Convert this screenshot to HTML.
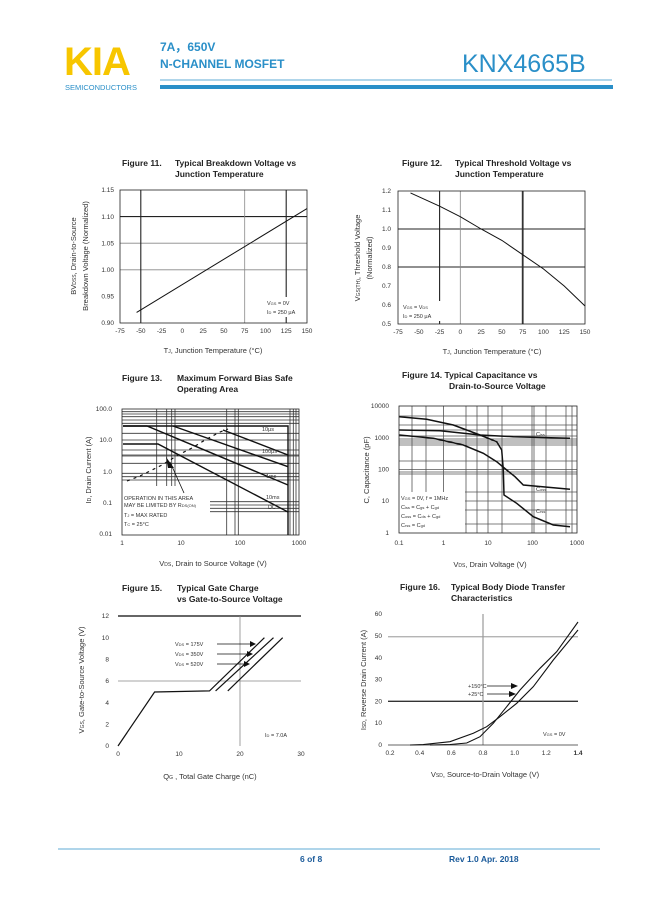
<!DOCTYPE html>
<html><head><meta charset="utf-8"><style>
html,body{margin:0;padding:0;background:#fff;}
svg{display:block;font-family:"Liberation Sans",Arial,sans-serif;}
.t{font-size:8.5px;font-weight:bold;fill:#222}
.k{font-size:6.5px;fill:#333}
.a{font-size:7.5px;fill:#333}
.s{font-size:5.5px;fill:#333}
.g{stroke:#888;stroke-width:0.8;fill:none}
.d{stroke:#222;stroke-width:1.1;fill:none}
.c{stroke:#111;stroke-width:1;fill:none}
.box{stroke:#222;stroke-width:0.8;fill:none}
</style></head><body>
<svg width="649" height="917" viewBox="0 0 649 917" xmlns="http://www.w3.org/2000/svg">
<!-- header -->
<text x="64" y="75" font-size="40" font-weight="bold" fill="#f7c600" letter-spacing="-1">KIA</text>
<text x="65" y="90" font-size="7.5" fill="#2a8fc8">SEMICONDUCTORS</text>
<text x="160" y="51" font-size="12" font-weight="bold" fill="#2a8fc8">7A，650V</text>
<text x="160" y="68" font-size="12" font-weight="bold" fill="#2a8fc8">N-CHANNEL MOSFET</text>
<text x="462" y="72" font-size="25" fill="#2a8fc8">KNX4665B</text>
<line x1="160" y1="80" x2="612" y2="80" stroke="#2a8fc8" stroke-width="0.8"/>
<rect x="160" y="85" width="453" height="4" fill="#2a8fc8"/>

<!-- FIG 11 -->
<text class="t" x="122" y="166">Figure 11.</text><text class="t" x="175" y="166">Typical Breakdown Voltage vs</text>
<text class="t" x="175" y="177">Junction Temperature</text>
<line class="g" x1="120" y1="269.8" x2="307" y2="269.8"/><line class="g" x1="120" y1="243.2" x2="307" y2="243.2"/>
<line class="d" x1="120" y1="216.6" x2="307" y2="216.6"/>
<line class="d" x1="140.8" y1="190" x2="140.8" y2="323"/><line class="g" x1="244.7" y1="190" x2="244.7" y2="323"/><line class="d" x1="286.2" y1="190" x2="286.2" y2="323"/>
<rect class="box" x="120" y="190" width="187" height="133"/>
<line class="c" x1="136.6" y1="312.4" x2="307" y2="208.6"/>
<rect x="265" y="297" width="40" height="20" fill="#fff"/>
<text class="s" x="267" y="305">V<tspan font-size="4">GS</tspan> = 0V</text><text class="s" x="267" y="314">I<tspan font-size="4">D</tspan> = 250 μA</text>
<g class="k" text-anchor="end"><text x="114" y="192">1.15</text><text x="114" y="219">1.10</text><text x="114" y="245.5">1.05</text><text x="114" y="272">1.00</text><text x="114" y="298.5">0.95</text><text x="114" y="325">0.90</text></g>
<g class="k" text-anchor="middle"><text x="120" y="333">-75</text><text x="140.8" y="333">-50</text><text x="161.6" y="333">-25</text><text x="182.3" y="333">0</text><text x="203.1" y="333">25</text><text x="223.9" y="333">50</text><text x="244.7" y="333">75</text><text x="265.4" y="333">100</text><text x="286.2" y="333">125</text><text x="307" y="333">150</text></g>
<text class="a" x="213" y="353" text-anchor="middle">T<tspan font-size="5">J</tspan>, Junction Temperature (°C)</text>
<text class="a" transform="translate(76,256) rotate(-90)" text-anchor="middle">BV<tspan font-size="5">DSS</tspan>, Drain-to-Source</text>
<text class="a" transform="translate(88,256) rotate(-90)" text-anchor="middle">Breakdown Voltage (Normalized)</text>

<!-- FIG 12 -->
<text class="t" x="402" y="166">Figure 12.</text><text class="t" x="455" y="166">Typical Threshold Voltage vs</text>
<text class="t" x="455" y="177">Junction Temperature</text>
<line class="d" x1="398" y1="229" x2="585" y2="229"/><line class="d" x1="398" y1="267" x2="585" y2="267"/>
<line class="d" x1="439.6" y1="191" x2="439.6" y2="324"/><line class="g" x1="460.3" y1="191" x2="460.3" y2="324"/><line x1="522.7" y1="191" x2="522.7" y2="324" stroke="#333" stroke-width="1.8"/>
<rect class="box" x="398" y="191" width="187" height="133"/>
<polyline class="c" points="410.5,192.9 439.6,206.2 460.3,216.7 481.1,229 501.9,240.4 522.7,254.7 543.4,268.9 564.2,286 585,306"/>
<rect x="401" y="301" width="40" height="20" fill="#fff"/>
<text class="s" x="403" y="309">V<tspan font-size="4">GS</tspan> = V<tspan font-size="4">DS</tspan></text><text class="s" x="403" y="318">I<tspan font-size="4">D</tspan> = 250 μA</text>
<g class="k" text-anchor="end"><text x="391" y="193">1.2</text><text x="391" y="212">1.1</text><text x="391" y="231">1.0</text><text x="391" y="250">0.9</text><text x="391" y="269">0.8</text><text x="391" y="288">0.7</text><text x="391" y="307">0.6</text><text x="391" y="326">0.5</text></g>
<g class="k" text-anchor="middle"><text x="398" y="334">-75</text><text x="418.8" y="334">-50</text><text x="439.6" y="334">-25</text><text x="460.3" y="334">0</text><text x="481.1" y="334">25</text><text x="501.9" y="334">50</text><text x="522.7" y="334">75</text><text x="543.4" y="334">100</text><text x="564.2" y="334">125</text><text x="585" y="334">150</text></g>
<text class="a" x="492" y="354" text-anchor="middle">T<tspan font-size="5">J</tspan>, Junction Temperature (°C)</text>
<text class="a" transform="translate(360,258) rotate(-90)" text-anchor="middle">V<tspan font-size="5">GS(TH)</tspan>, Threshold Voltage</text>
<text class="a" transform="translate(372,258) rotate(-90)" text-anchor="middle">(Normalized)</text>

<!-- FIG 13 -->
<text class="t" x="122" y="381">Figure 13.</text><text class="t" x="177" y="381">Maximum Forward Bias Safe</text>
<text class="t" x="177" y="392">Operating Area</text>
<g stroke="#333" stroke-width="0.8">
<line x1="122" y1="411.7" x2="299" y2="411.7"/><line x1="122" y1="414" x2="299" y2="414"/><line x1="122" y1="416.7" x2="299" y2="416.7"/><line x1="122" y1="420" x2="299" y2="420"/><line x1="122" y1="423.3" x2="299" y2="423.3"/><line x1="122" y1="433.3" x2="299" y2="433.3"/><line x1="122" y1="440" x2="299" y2="440"/><line x1="122" y1="450" x2="299" y2="450"/><line x1="122" y1="455" x2="299" y2="455"/><line x1="122" y1="456" x2="299" y2="456"/><line x1="122" y1="463.3" x2="299" y2="463.3"/><line x1="122" y1="473.3" x2="299" y2="473.3"/><line x1="122" y1="476.7" x2="299" y2="476.7"/><line x1="122" y1="480" x2="299" y2="480"/><line x1="210" y1="501.7" x2="299" y2="501.7"/><line x1="210" y1="505" x2="299" y2="505"/><line x1="210" y1="508.3" x2="299" y2="508.3"/><line x1="210" y1="511.7" x2="299" y2="511.7"/>
<line x1="156.7" y1="409" x2="156.7" y2="486"/><line x1="166.7" y1="409" x2="166.7" y2="486"/><line x1="171.7" y1="409" x2="171.7" y2="486"/><line x1="175" y1="409" x2="175" y2="486"/><line x1="226.7" y1="409" x2="226.7" y2="535"/><line x1="235" y1="409" x2="235" y2="535"/><line x1="238.3" y1="409" x2="238.3" y2="535"/><line x1="290" y1="409" x2="290" y2="535"/><line x1="293.3" y1="409" x2="293.3" y2="535"/><line x1="296" y1="409" x2="296" y2="535"/>
</g>
<rect class="box" x="122" y="409" width="177" height="126"/>
<g stroke="#111" stroke-width="1.4" fill="none">
<polyline points="123,426 288,426 288,535"/>
<polyline points="123,426 147,426 288,485"/>
<line x1="173" y1="426" x2="288" y2="466.7"/>
<line x1="223" y1="430" x2="288" y2="455"/>
<polyline points="123,444 158,444 288,512"/>
</g>
<polyline points="127,481 140,476 150,471 162,465 178,455 192,448 205,440 220,432 228,429" fill="none" stroke="#111" stroke-width="1.2" stroke-dasharray="3,4"/>
<polygon points="166,457 174,468 168,468" fill="#111"/><line x1="170" y1="462" x2="184" y2="493" stroke="#111" stroke-width="0.8"/>
<rect x="124" y="494" width="80" height="38" fill="#fff"/>
<text class="s" x="124" y="500">OPERATION IN THIS AREA</text><text class="s" x="124" y="507">MAY BE LIMITED BY R<tspan font-size="4">DS(ON)</tspan></text>
<text class="s" x="124" y="517">T<tspan font-size="4">J</tspan> = MAX RATED</text><text class="s" x="124" y="526">T<tspan font-size="4">C</tspan> = 25°C</text>
<g class="s" fill="#333"><text x="262" y="431">10μs</text><text x="262" y="453">100μs</text><text x="266" y="478">1ms</text><text x="266" y="499">10ms</text><text x="268" y="509">DC</text></g>
<g class="k" text-anchor="end"><text x="112" y="411">100.0</text><text x="112" y="442">10.0</text><text x="112" y="474">1.0</text><text x="112" y="505">0.1</text><text x="112" y="536">0.01</text></g>
<g class="k" text-anchor="middle"><text x="122" y="545">1</text><text x="181" y="545">10</text><text x="240" y="545">100</text><text x="299" y="545">1000</text></g>
<text class="a" x="213" y="566" text-anchor="middle">V<tspan font-size="5">DS</tspan>, Drain to Source Voltage (V)</text>
<text class="a" transform="translate(91,470) rotate(-90)" text-anchor="middle">I<tspan font-size="5">D</tspan>, Drain Current (A)</text>

<!-- FIG 14 -->
<text class="t" x="402" y="378">Figure 14.  Typical Capacitance vs</text>
<text class="t" x="449" y="389">Drain-to-Source Voltage</text>
<g stroke="#555" stroke-width="0.8">
<line x1="399" y1="416" x2="577" y2="416"/><line x1="399" y1="425" x2="577" y2="425"/><line x1="399" y1="430" x2="577" y2="430"/><line x1="399" y1="436" x2="577" y2="436"/><line x1="399" y1="439" x2="577" y2="439"/><line x1="399" y1="441" x2="577" y2="441"/><line x1="399" y1="443" x2="577" y2="443"/><line x1="399" y1="445" x2="577" y2="445"/><line x1="399" y1="461" x2="577" y2="461"/><line x1="399" y1="469.5" x2="577" y2="469.5"/><line x1="399" y1="472" x2="577" y2="472"/><line x1="399" y1="474" x2="577" y2="474"/><line x1="465" y1="492" x2="577" y2="492"/><line x1="465" y1="501" x2="577" y2="501"/><line x1="465" y1="510" x2="577" y2="510"/><line x1="465" y1="524" x2="577" y2="524"/>
<line x1="412" y1="406" x2="412" y2="493"/><line x1="426" y1="406" x2="426" y2="493"/><line x1="443.5" y1="406" x2="443.5" y2="493"/><line x1="466" y1="406" x2="466" y2="533"/><line x1="477" y1="406" x2="477" y2="533"/><line x1="488" y1="406" x2="488" y2="533"/><line x1="502" y1="406" x2="502" y2="533"/><line x1="532" y1="406" x2="532" y2="533"/><line x1="534" y1="406" x2="534" y2="533"/><line x1="546" y1="406" x2="546" y2="533"/><line x1="566" y1="406" x2="566" y2="533"/><line x1="572" y1="406" x2="572" y2="533"/>
</g>
<rect class="box" x="399" y="406" width="178" height="127"/>
<g stroke="#111" stroke-width="1.5" fill="none">
<polyline points="399.3,416.7 426.7,419.3 453.3,425 480,435 496.7,441.7 501.7,450 503.3,470 504,495 516.7,503.3 533.3,516.7 553.3,525 570,526.7"/>
<polyline points="399.3,430 440,430.7 480,435 513.3,436.7 570,438.3"/>
<polyline points="399.3,435 433.3,438.3 463.3,445 483.3,453.3 496.7,461.7 506.7,470 515,476.7 523.3,485 570,489.3"/>
</g>
<rect x="399.5" y="492" width="65" height="40" fill="#fff"/>
<g class="s"><text x="401" y="500">V<tspan font-size="4">GS</tspan> = 0V, f = 1MHz</text><text x="401" y="509">C<tspan font-size="4">iss</tspan> = C<tspan font-size="4">gs</tspan> + C<tspan font-size="4">gd</tspan></text><text x="401" y="518">C<tspan font-size="4">oss</tspan> = C<tspan font-size="4">ds</tspan> + C<tspan font-size="4">gd</tspan></text><text x="401" y="527">C<tspan font-size="4">rss</tspan> = C<tspan font-size="4">gd</tspan></text>
<text x="536" y="436">C<tspan font-size="4">iss</tspan></text><text x="536" y="491">C<tspan font-size="4">oss</tspan></text><text x="536" y="513">C<tspan font-size="4">rss</tspan></text></g>
<g class="k" text-anchor="end"><text x="389" y="408">10000</text><text x="389" y="440">1000</text><text x="389" y="471.5">100</text><text x="389" y="503">10</text><text x="389" y="535">1</text></g>
<g class="k" text-anchor="middle"><text x="399" y="545">0.1</text><text x="443.5" y="545">1</text><text x="488" y="545">10</text><text x="532.5" y="545">100</text><text x="577" y="545">1000</text></g>
<text class="a" x="490" y="567" text-anchor="middle">V<tspan font-size="5">DS</tspan>, Drain Voltage (V)</text>
<text class="a" transform="translate(369,470) rotate(-90)" text-anchor="middle">C, Capacitance (pF)</text>

<!-- FIG 15 -->
<text class="t" x="122" y="591">Figure 15.</text><text class="t" x="177" y="591">Typical Gate Charge</text>
<text class="t" x="177" y="602">vs Gate-to-Source Voltage</text>
<line x1="118" y1="616" x2="301" y2="616" stroke="#333" stroke-width="1.5"/>
<line class="g" x1="118" y1="681" x2="301" y2="681"/>
<line class="g" x1="240" y1="616" x2="240" y2="746"/>
<g stroke="#111" stroke-width="1.2" fill="none">
<polyline points="118,746 154.6,692 209.5,690.9 264.4,637.7"/>
<polyline points="215.6,690.9 273.5,637.7"/>
<polyline points="227.8,690.9 282.7,637.7"/>
</g>
<g stroke="#111" stroke-width="0.8"><line x1="217" y1="644" x2="252" y2="644"/><line x1="217" y1="654" x2="249" y2="654"/><line x1="217" y1="664" x2="246" y2="664"/></g>
<g fill="#111"><polygon points="256,644 250,641 250,647"/><polygon points="253,654 247,651 247,657"/><polygon points="250,664 244,661 244,667"/></g>
<rect x="172" y="639" width="44" height="30" fill="#fff"/>
<g class="s"><text x="175" y="646">V<tspan font-size="4">DS</tspan> = 175V</text><text x="175" y="656">V<tspan font-size="4">DS</tspan> = 350V</text><text x="175" y="666">V<tspan font-size="4">DS</tspan> = 520V</text><text x="265" y="737">I<tspan font-size="4">D</tspan> = 7.0A</text></g>
<g class="k" text-anchor="end"><text x="109" y="618">12</text><text x="109" y="640">10</text><text x="109" y="661.5">8</text><text x="109" y="683">6</text><text x="109" y="705">4</text><text x="109" y="726.5">2</text><text x="109" y="748">0</text></g>
<g class="k" text-anchor="middle"><text x="118" y="756">0</text><text x="179" y="756">10</text><text x="240" y="756">20</text><text x="301" y="756">30</text></g>
<text class="a" x="210" y="779" text-anchor="middle">Q<tspan font-size="5">G</tspan> , Total Gate Charge (nC)</text>
<text class="a" transform="translate(84,680) rotate(-90)" text-anchor="middle">V<tspan font-size="5">GS</tspan>, Gate-to-Source Voltage (V)</text>

<!-- FIG 16 -->
<text class="t" x="400" y="590">Figure 16.</text><text class="t" x="451" y="590">Typical Body Diode Transfer</text>
<text class="t" x="451" y="601">Characteristics</text>
<line class="g" x1="388" y1="636.8" x2="578" y2="636.8"/>
<line x1="388" y1="701.3" x2="578" y2="701.3" stroke="#333" stroke-width="1.4"/>
<line x1="483" y1="614" x2="483" y2="745" stroke="#999" stroke-width="1.2"/>
<line x1="388" y1="745" x2="578" y2="745" stroke="#333" stroke-width="0.8"/>
<g stroke="#111" stroke-width="1.1" fill="none">
<polyline points="410,745 423.3,744.6 450,741.7 473.3,733.3 486.7,726.7 500,716.7 516.7,703.3 533.3,686.7 553.3,660 578,630"/>
<polyline points="430,745 450,744.5 466.7,743 480,736.7 493.3,723.3 506.7,706.7 520,690 540,668.3 556.7,651.7 578,622"/>
</g>
<g stroke="#111" stroke-width="0.8"><line x1="487" y1="686" x2="512" y2="686"/><line x1="487" y1="694" x2="510" y2="694"/></g>
<g fill="#111"><polygon points="518,686 511,683 511,689"/><polygon points="516,694 509,691 509,697"/></g>
<g class="s"><text x="468" y="688">+150°C</text><text x="468" y="696">+25°C</text><text x="543" y="736">V<tspan font-size="4">GS</tspan> = 0V</text></g>
<g class="k" text-anchor="end"><text x="382" y="616">60</text><text x="382" y="638">50</text><text x="382" y="660">40</text><text x="382" y="681.5">30</text><text x="382" y="703.5">20</text><text x="382" y="725">10</text><text x="382" y="747">0</text></g>
<g class="k" text-anchor="middle"><text x="390" y="755">0.2</text><text x="419.7" y="755">0.4</text><text x="451.3" y="755">0.6</text><text x="483" y="755">0.8</text><text x="514.7" y="755">1.0</text><text x="546.3" y="755">1.2</text><text x="578" y="755" font-weight="bold">1.4</text></g>
<text class="a" x="485" y="777" text-anchor="middle">V<tspan font-size="5">SD</tspan>, Source-to-Drain Voltage (V)</text>
<text class="a" transform="translate(366,680) rotate(-90)" text-anchor="middle">I<tspan font-size="5">SD</tspan>, Reverse Drain Current (A)</text>

<!-- footer -->
<line x1="58" y1="849" x2="600" y2="849" stroke="#2a8fc8" stroke-width="0.8"/>
<text x="300" y="862" font-size="8.5" font-weight="bold" fill="#1a5a9a">6 of 8</text>
<text x="449" y="862" font-size="8.5" font-weight="bold" fill="#1a5a9a">Rev 1.0 Apr. 2018</text>
</svg>
</body></html>
